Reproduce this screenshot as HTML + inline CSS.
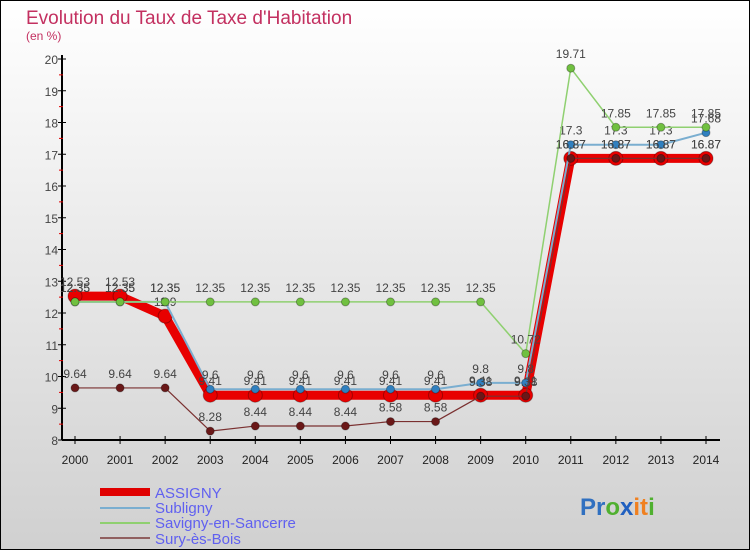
<!DOCTYPE html>
<html><head><meta charset="utf-8"><style>
body{margin:0;width:750px;height:550px;overflow:hidden;font-family:"Liberation Sans",sans-serif}
svg{display:block}
</style></head><body>
<svg id="c" width="750" height="550" xmlns="http://www.w3.org/2000/svg">
<defs><linearGradient id="bg" x1="0" y1="0" x2="0" y2="1"><stop offset="0" stop-color="#ffffff"/><stop offset="1" stop-color="#d0d0d0"/></linearGradient></defs>
<rect x="0.5" y="0.5" width="749" height="549" fill="url(#bg)" stroke="#000"/>
<text x="26" y="24" font-size="19" fill="#c33060">Evolution du Taux de Taxe d'Habitation</text>
<text x="26" y="40" font-size="12" fill="#c33060">(en %)</text>
<g id="axes"></g><g id="series"></g>
<g>
<line x1="100" y1="492" x2="150" y2="492" stroke="#e00000" stroke-width="8"/>
<text x="155" y="498" font-size="15" fill="#6060f0">ASSIGNY</text>
<line x1="100" y1="508" x2="150" y2="508" stroke="#7aaed0" stroke-width="2"/>
<text x="155" y="513" font-size="15" fill="#6060f0">Subligny</text>
<line x1="100" y1="523" x2="150" y2="523" stroke="#8fd070" stroke-width="2"/>
<text x="155" y="528" font-size="15" fill="#6060f0">Savigny-en-Sancerre</text>
<line x1="100" y1="538" x2="150" y2="538" stroke="#906060" stroke-width="2"/>
<text x="155" y="544" font-size="15" fill="#6060f0">Sury-ès-Bois</text>
</g>
<text x="580" y="515" font-size="24" font-weight="bold"><tspan fill="#3070c0">Pr</tspan><tspan fill="#50b030">o</tspan><tspan fill="#2060c0">x</tspan><tspan fill="#f08020">it</tspan><tspan fill="#50b030">i</tspan></text>
</svg>
<script>
const years=[2000,2001,2002,2003,2004,2005,2006,2007,2008,2009,2010,2011,2012,2013,2014];
const yTicks=[8,9,10,11,12,13,14,15,16,17,18,19,20];
const assigny=[12.53,12.53,11.9,9.41,9.41,9.41,9.41,9.41,9.41,9.41,9.41,16.87,16.87,16.87,16.87];
const subligny=[12.35,12.35,12.35,9.6,9.6,9.6,9.6,9.6,9.6,9.8,9.8,17.3,17.3,17.3,17.68];
const savigny=[12.35,12.35,12.35,12.35,12.35,12.35,12.35,12.35,12.35,12.35,10.72,19.71,17.85,17.85,17.85];
const sury=[9.64,9.64,9.64,8.28,8.44,8.44,8.44,8.58,8.58,9.38,9.38,16.87,16.87,16.87,16.87];
const NS="http://www.w3.org/2000/svg";
const X=i=>75+i*(706-75)/(years.length-1);
const Y=v=>440-(v-8)*(440-59)/12;
function mk(t,a,p){const e=document.createElementNS(NS,t);for(const k in a)e.setAttribute(k,a[k]);p.appendChild(e);return e;}
const ax=document.getElementById('axes');
let l=mk('line',{x1:62,y1:55,x2:62,y2:440,stroke:'#000','stroke-width':2},ax);


l=mk('line',{x1:62,y1:440,x2:720,y2:440,stroke:'#000','stroke-width':2},ax);


yTicks.forEach(v=>{mk('line',{x1:58,y1:Y(v),x2:66,y2:Y(v),stroke:'#000'},ax);
 if(v<20)mk('line',{x1:59,y1:Y(v+0.5),x2:63,y2:Y(v+0.5),stroke:'#e00000'},ax);
 const t=mk('text',{x:58,y:Y(v)+5,'font-size':12,fill:'#444','text-anchor':'end'},ax);t.textContent=v;
 
 });
years.forEach((y,i)=>{mk('line',{x1:X(i),y1:436,x2:X(i),y2:444,stroke:'#000'},ax);
 const t=mk('text',{x:X(i),y:464,'font-size':12,fill:'#222','text-anchor':'middle'},ax);t.textContent=y;
 
 });
const sg=document.getElementById('series');
function draw(vals,name,color,w,r,fill){const g=mk('g',{},sg);
 
 
 mk('polyline',{points:vals.map((v,i)=>X(i)+','+Y(v)).join(' '),fill:'none',stroke:color,'stroke-width':w,'stroke-linejoin':'round'},g);
 vals.forEach((v,i)=>{const c=mk('circle',{cx:X(i),cy:Y(v),r:r,fill:fill,stroke:'rgba(0,0,0,0.3)'},g);
  
  
  const t=mk('text',{x:X(i),y:Y(v)-10,'font-size':12,fill:'#444','text-anchor':'middle'},g);t.textContent=v;
  
  });}
draw(assigny,'assigny','#e80000',9,7,'#e80000');
draw(subligny,'subligny','#7aaed0',2,4,'#3080c0');
draw(savigny,'savigny','#8fd070',1.5,4,'#70c040');
draw(sury,'sury','#7a3030',1.2,4,'#6a1818');
</script>
</body></html>
